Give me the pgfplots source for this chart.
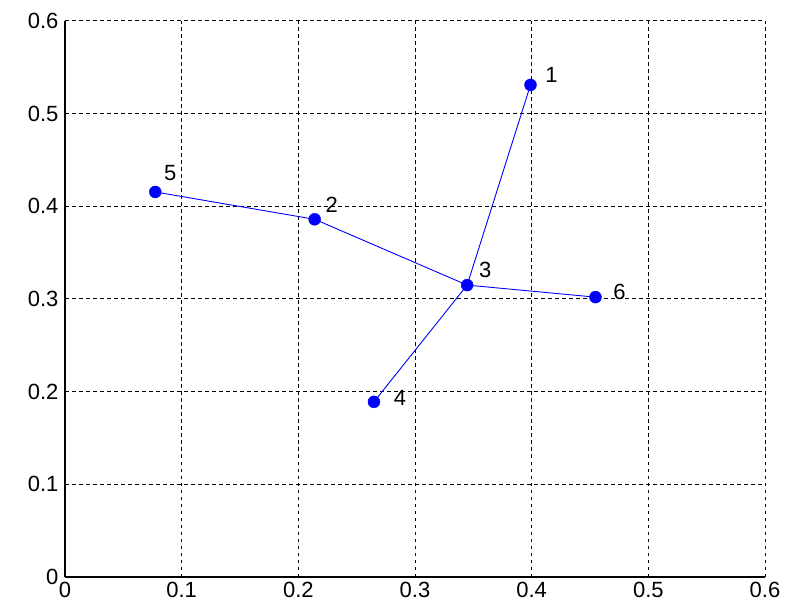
\documentclass[border=0pt]{standalone}
\usepackage{pgfplots}
\pgfplotsset{compat=1.18}
\usepackage{fontspec}
\setmainfont{Liberation Sans}
\begin{document}
\begin{tikzpicture}
\begin{axis}[
  scale only axis,
  width=700pt, height=556pt,
  xmin=0, xmax=0.6, ymin=0, ymax=0.6,
  xtick={0,0.1,0.2,0.3,0.4,0.5,0.6},
  ytick={0,0.1,0.2,0.3,0.4,0.5,0.6},
  xticklabels={0,0.1,0.2,0.3,0.4,0.5,0.6},
  yticklabels={0,0.1,0.2,0.3,0.4,0.5,0.6},
  axis x line*=bottom, axis y line*=left,
  axis line style={-, black, line width=1.3pt},
  major tick length=0pt,
  grid=major,
  major grid style={black, line width=1pt, dash pattern=on 3.5pt off 3.5pt},
  ticklabel style={font=\fontsize{22}{24}\selectfont},
  /pgf/number format/assume math mode=true,
  xticklabel style={yshift=-2pt},
  yticklabel style={xshift=-3pt},
  clip=false,
]
\addplot[blue, line width=0.9pt] coordinates {(0.0774,0.4155) (0.214,0.386) (0.3447,0.315) (0.399,0.531)};
\addplot[blue, line width=0.9pt] coordinates {(0.3447,0.315) (0.4547,0.302)};
\addplot[blue, line width=0.9pt] coordinates {(0.3447,0.315) (0.2648,0.189)};
\addplot[only marks, mark=*, blue, mark size=6pt,
  visualization depends on={\thisrow{dx}\as\dx},
  visualization depends on={\thisrow{dy}\as\dy},
  point meta=explicit symbolic,
  nodes near coords,
  nodes near coords style={anchor=center, black, font=\fontsize{22}{24}\selectfont, xshift=\dx pt, yshift=\dy pt},
] table[x=x, y=y, meta=lab] {
x y lab dx dy
0.399 0.531 1 21 10
0.214 0.386 2 17 14
0.3447 0.315 3 18 15
0.2648 0.189 4 26 4
0.0774 0.4155 5 15 19
0.4547 0.302 6 24 5
};
\coordinate (bl) at (rel axis cs:0,0);
\coordinate (tr) at (rel axis cs:1,1);
\end{axis}
\path ([xshift=-65pt,yshift=-27pt]bl) rectangle ([xshift=25pt,yshift=21pt]tr);
\end{tikzpicture}
\end{document}
